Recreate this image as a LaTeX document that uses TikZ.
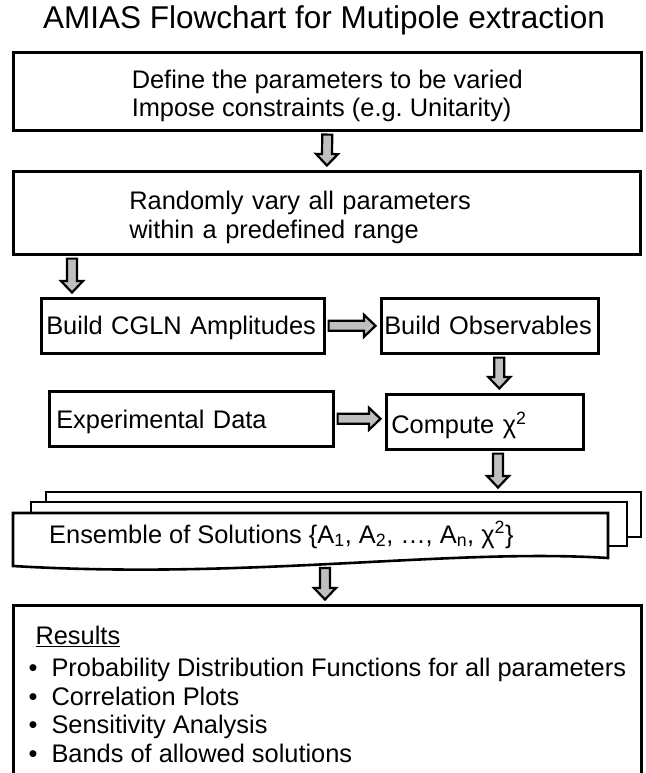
\documentclass[tikz,border=0pt]{standalone}
\usepackage{fontspec}
\setmainfont{Liberation Sans}
\usetikzlibrary{calc}

\newcommand{\bodyfont}{\fontsize{25.4}{28.6}\selectfont}
\newcommand{\titlefont}{\fontsize{31.5}{36}\selectfont}
\newcommand{\topstrut}[1]{\rule{0pt}{#1}}

\tikzset{
  flowbox/.style={draw, line width=2.6pt, rectangle, anchor=north west, align=left, inner ysep=0pt, font=\bodyfont},
  sheet/.style={draw, fill=white, line width=2.6pt, line join=miter},
  arrowbody/.style={draw, line width=2.2pt, fill=black!25, line join=miter}
}

\newcommand{\flowarrow}[2]{%
  \coordinate (fa) at ($(#1)!3pt!(#2)$);
  \coordinate (fb) at ($(#2)!4.5pt!(#1)$);
  \coordinate (fh) at ($(fb)!11.5pt!(fa)$);
  \draw[arrowbody] ($(fa)!5pt!90:(fb)$) -- ($(fh)!5pt!-90:(fa)$) -- ($(fh)!11pt!-90:(fa)$) -- (fb)
    -- ($(fh)!11pt!90:(fa)$) -- ($(fh)!5pt!90:(fa)$) -- ($(fa)!5pt!-90:(fb)$) -- cycle;
}

\begin{document}
\begin{tikzpicture}[x=1pt, y=-1pt]
    \useasboundingbox (0,0) rectangle (645,773);

    \node[font=\titlefont, anchor=base, inner sep=0pt] (title) at (324,29) {AMIAS Flowchart for Mutipole extraction};

    \node[flowbox, minimum width=628pt, minimum height=78pt] (defbox) at (12,51)
      {\topstrut{28pt}Define the parameters to be varied\\Impose constraints (e.g.\ Unitarity)};
    \node[flowbox, minimum width=627pt, minimum height=83pt, text width=395pt, inner xsep=116pt] (varybox) at (12,170)
      {\topstrut{28pt}Randomly vary all parameters\\within a predefined range};
    \node[flowbox, minimum width=283pt, minimum height=55pt, text width=273pt, inner xsep=5pt,
          text height=19pt, text depth=2pt] (cglnbox) at (40,297) {\mbox{Build CGLN Amplitudes}};
    \node[flowbox, minimum width=217pt, minimum height=55pt, text width=211pt, inner xsep=3pt,
          text height=19pt, text depth=2pt] (obsbox) at (380,297) {\mbox{Build Observables}};
    \node[flowbox, minimum width=284pt, minimum height=55pt, text width=270pt, inner xsep=7pt,
          text height=22pt, text depth=2pt] (expbox) at (48,390) {Experimental Data};
    \node[flowbox, minimum width=197pt, minimum height=55pt, text width=187pt, inner xsep=5pt,
          text height=25pt, text depth=2pt] (chibox) at (385,393) {Compute χ\textsuperscript{2}};

    \draw[sheet] (46,492) rectangle (641,537);
    \draw[sheet] (31,502) rectangle (627,546);
    \draw[sheet] (13,566) -- (13,513) -- (608,513) -- (608,558) .. controls (450,548) and (250,580) .. (13,566) -- cycle;
    \node[font=\bodyfont, anchor=base west, inner sep=0pt] (ens) at (49,543)
      {Ensemble of Solutions \{A\textsubscript{1}, A\textsubscript{2}, …, A\textsubscript{n}, χ\textsuperscript{2}\}};

    \node[flowbox, minimum width=628pt, inner xsep=0pt, inner ysep=21pt] (resbox) at (12,604)
      {\hspace*{7pt}\underline{Results}\\[3.4pt]
       \makebox[23pt][l]{•}Probability Distribution Functions for all parameters\\
       \makebox[23pt][l]{•}Correlation Plots\\
       \makebox[23pt][l]{•}Sensitivity Analysis\\
       \makebox[23pt][l]{•}Bands of allowed solutions};

    \coordinate (cglnin) at ($(cglnbox.north west)+(32,0)$);
    \coordinate (obsout) at ($(obsbox.south)+(9.5,0)$);
    \coordinate (stacktop) at (498,492);
    \coordinate (stackout) at (325,565);

    \flowarrow{defbox.south}{varybox.north}
    \flowarrow{varybox.south -| cglnin}{cglnin}
    \flowarrow{cglnbox.east}{obsbox.west}
    \flowarrow{obsout}{chibox.north -| obsout}
    \flowarrow{expbox.east}{chibox.west |- expbox.east}
    \flowarrow{chibox.south -| stacktop}{stacktop}
    \flowarrow{stackout}{resbox.north -| stackout}
\end{tikzpicture}
\end{document}
